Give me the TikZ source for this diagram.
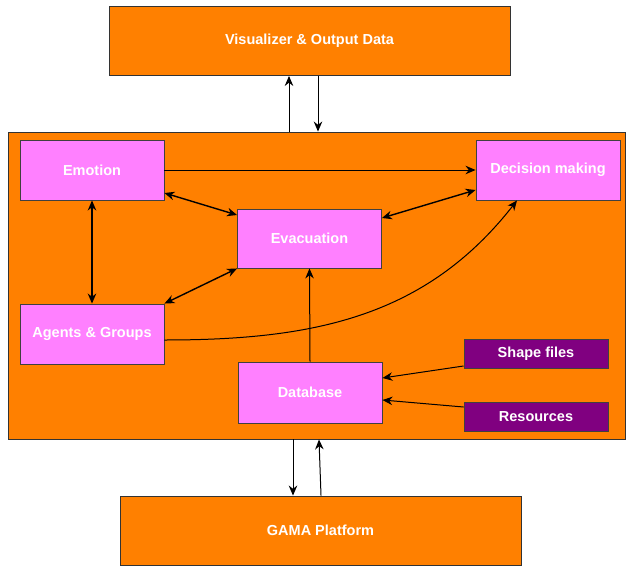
\documentclass[tikz,border=0pt]{standalone}
\usepackage{fontspec}
\setmainfont{Liberation Sans}
\usetikzlibrary{positioning, arrows.meta}
\definecolor{gamaorange}{HTML}{FF8000}
\definecolor{modpink}{HTML}{FF80FF}
\definecolor{datapurple}{HTML}{800080}

\tikzset{
    platform/.style={draw=black!80, fill=gamaorange, line width=0.9pt, inner sep=0pt,
        text=white, font=\fontsize{14.5}{16}\selectfont\bfseries},
    modbox/.style={draw=black!75, fill=modpink, line width=0.9pt, inner sep=0pt,
        minimum width=144pt, text=white, font=\fontsize{14.5}{16}\selectfont\bfseries},
    inputbox/.style={draw=black!75, fill=datapurple, line width=0.9pt, inner sep=0pt,
        minimum width=144pt, minimum height=29pt, text=white, font=\fontsize{14.5}{16}\selectfont\bfseries},
    link/.style={-{Stealth[length=10pt,width=8.5pt]}, line width=1pt},
    bilink/.style={{Stealth[length=10pt,width=8.5pt]}-{Stealth[length=10pt,width=8.5pt]}, line width=1.4pt}
}

\begin{document}
\begin{tikzpicture}[x=1pt, y=-1pt]
        % Fix the page size
        \useasboundingbox (0,0) rectangle (626,567);
        % Outer boxes
        \node[platform, minimum width=401pt, minimum height=69pt] (vis) at (309.5,41) {Visualizer \& Output Data};
        \node[platform, minimum width=617pt, minimum height=307pt] (core) at (316.5,285.5) {};
        \node[platform, minimum width=401pt, minimum height=69pt] (gama) at (320.5,530.5) {GAMA Platform};
        % Modules inside the simulation
        \node[modbox, minimum height=60pt] (emotion) at (92,170) {Emotion};
        \node[modbox, minimum height=60pt] (decision) at (548,170) {Decision making};
        \node[modbox, minimum height=59pt] (evac) at (309.5,238.5) {Evacuation};
        \node[modbox, minimum height=60pt] (agents) at (92,334) {Agents \& Groups};
        \node[modbox, minimum height=61pt] (db) at (310,392.5) {Database};
        % Input data
        \node[inputbox] (shape) at (536,353.5) {Shape files};
        \node[inputbox] (res) at (536,416.5) {Resources};

        % Links to the outer boxes
        \draw[link] ([xshift=-27.5pt]core.north) -- ([xshift=-20.5pt]vis.south);
        \draw[link] ([xshift=8.5pt]vis.south) -- ([xshift=1.5pt]core.north);
        \draw[link] ([xshift=-23.5pt]core.south) -- ([xshift=-27.5pt]gama.north);
        \draw[link] ([xshift=0.5pt]gama.north) -- ([xshift=2.5pt]core.south);
        % Links between modules
        \draw[link] (emotion.east) -- (decision.west);
        \draw[bilink] ([yshift=-23pt]emotion.east) -- ([yshift=23.5pt]evac.west);
        \draw[bilink] ([yshift=20.5pt]evac.east) -- ([yshift=-20pt]decision.west);
        \draw[bilink] (emotion.south) -- (agents.north);
        \draw[bilink] (evac.south west) -- (agents.north east);
        \draw[link] (db.north) -- (evac.south);
        \draw[link] ([yshift=-6pt]agents.east) to[out=0, in=-128] ([xshift=-31pt]decision.south);
        \draw[link] ([yshift=-12.5pt]shape.west) -- ([yshift=14.5pt]db.east);
        \draw[link] ([yshift=9.5pt]res.west) -- ([yshift=-7.5pt]db.east);
    \end{tikzpicture}
\end{document}
